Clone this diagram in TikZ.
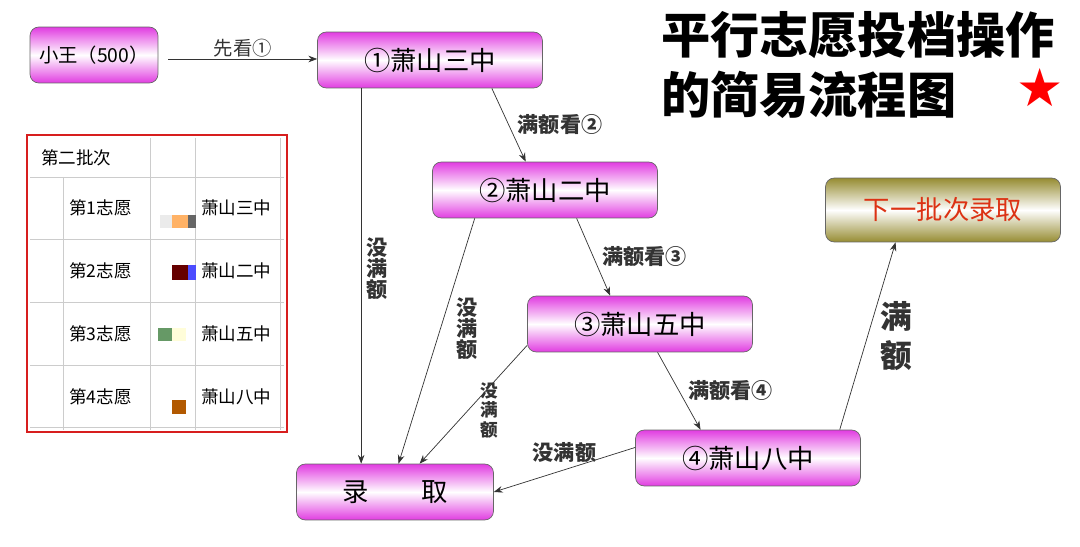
\documentclass[tikz,border=0pt]{standalone}
\usepackage{fontspec}
\usepackage{xcolor}
\usetikzlibrary{arrows.meta}
\newfontfamily\cjk{Noto Sans CJK SC}
\newfontfamily\sym{DejaVu Sans}
\definecolor{pinkend}{RGB}{225,60,225}
\definecolor{olivebox}{RGB}{150,140,50}
\definecolor{nextred}{RGB}{220,50,20}
\definecolor{boxred}{RGB}{215,30,30}
\tikzset{
  school/.style={draw=black!60, rounded corners=5pt, minimum width=4.5cm, minimum height=1.12cm,
    top color=pinkend, bottom color=pinkend, middle color=white, font=\cjk\fontsize{15}{15}\selectfont},
  note/.style={font=\cjk\bfseries\fontsize{12}{12}\selectfont, align=center, inner sep=1pt},
  flow/.style={-{Stealth[length=5pt]}, black!80},
  cell/.style={font=\cjk\fontsize{10}{10}\selectfont}
}
\begin{document}
\begin{tikzpicture}[x=0.02cm,y=-0.02cm]
\useasboundingbox (0,0) rectangle (1080,547);
\fill[white] (0,0) rectangle (1080,547);

% nodes
\node[school, minimum width=2.56cm, font=\cjk\fontsize{11}{11}\selectfont] (wang) at (94,55) {小王（500）};
\node[school] (s1) at (430,60) {①萧山三中};
\node[school] (s2) at (545,190) {②萧山二中};
\node[school] (s3) at (640,324) {③萧山五中};
\node[school] (s4) at (748,458) {④萧山八中};
\node[school, minimum width=3.94cm] (lq) at (395,492) {录\hspace{2em}取};
\node[draw=black!60, rounded corners=5pt, minimum width=4.7cm, minimum height=1.28cm,
  top color=olivebox, bottom color=olivebox, middle color=white, text=nextred,
  font=\cjk\fontsize{15}{15}\selectfont] (next) at (943,210) {下一批次录取};

% title
\node[font=\cjk\bfseries\fontsize{28}{34}\selectfont, align=left, anchor=north west] (title) at (655,5)
  {平行志愿投档操作\\的简易流程图};
\node[text=red, font=\sym\fontsize{30}{30}\selectfont] (star) at (1040,88) {★};

% connectors
\draw[flow] (wang.east) ++(10,4) coordinate (w0) -- (s1.west |- w0) node[note, midway, above, font=\cjk\fontsize{11}{11}\selectfont] {先看①};
\draw[flow] (s1.south east) ++(-51,0) -- ([xshift=-11pt]s2.north) node[note, midway, right=4pt] {满额看②};
\draw[flow] ([xshift=18pt]s2.south) -- ([xshift=-17pt]s3.north) node[note, midway, right=4pt] {满额看③};
\draw[flow] ([xshift=10pt]s3.south) -- ([xshift=-27pt]s4.north) node[note, midway, right=4pt] {满额看④};
\draw[flow] (s1.south west) ++(44,0) coordinate (a0) -- (lq.north west -| a0) node[note, pos=0.48, right=2pt] {没\\满\\额};
\draw[flow] ([xshift=-40pt]s2.south) -- ([xshift=2pt]lq.north) node[note, pos=0.45, right=8pt] {没\\满\\额};
\draw[flow] ([yshift=4pt]s3.south west) -- ([xshift=14pt]lq.north) node[note, pos=0.55, right=6pt, font=\cjk\bfseries\fontsize{10}{11}\selectfont] {没\\满\\额};
\draw[flow] ([yshift=6pt]s4.west) -- (lq.east) node[note, midway, above=3pt] {没满额};
\draw[flow] ([xshift=-12pt]s4.north east) -- ([xshift=-27pt]next.south) node[note, midway, right=6pt, font=\cjk\bfseries\fontsize{18}{22}\selectfont] {满\\额};

% table
\foreach \y in {177,239,302,365,427} \draw[black!20] (30,\y) -- (284,\y);
\foreach \x in {150,195,280} \draw[black!20] (\x,138) -- (\x,430);
\draw[black!20] (63,177) -- (63,430);
\node[cell, anchor=west] (hd) at (35,158) {第二批次};
\foreach \n/\t/\y in {1/三/208,2/二/271,3/五/334,4/八/397} {
  \node[cell, anchor=west] (c\n) at (63,\y) {第\n 志愿};
  \node[cell, anchor=west] (d\n) at (195,\y) {萧山\t 中};
}
\fill[black!8] (160,215) rectangle (172,228);
\fill[orange!60] (172,215) rectangle (188,228);
\fill[black!60] (188,215) rectangle (196,228);
\fill[red!40!black] (172,265) rectangle (188,280);
\fill[blue!70] (188,265) rectangle (196,280);
\fill[gray!80!green] (158,328) rectangle (172,341);
\fill[yellow!15] (172,328) rectangle (186,341);
\fill[orange!70!black] (172,400) rectangle (186,414);
\draw[boxred, line width=1.5pt] (27,135) rectangle (287,432);
\end{tikzpicture}
\end{document}
